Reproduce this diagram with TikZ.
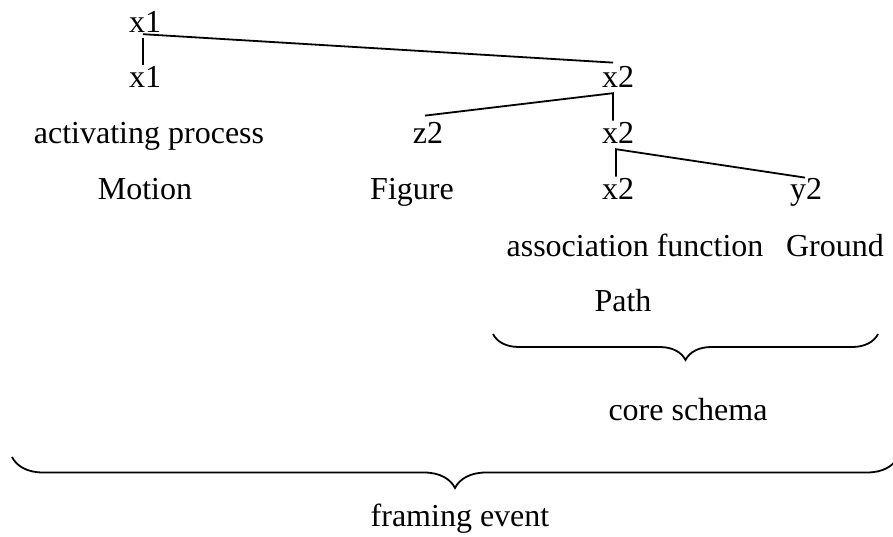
\documentclass[tikz,border=0pt]{standalone}
\usepackage{fontspec}
\setmainfont{Liberation Serif}
\usetikzlibrary{calc,decorations.pathreplacing}
\begin{document}
\begin{tikzpicture}[x=1pt,y=-1pt,
  lbl/.style={anchor=base,inner sep=0pt,font=\fontsize{32}{36}\selectfont},
  conn/.style={line width=1.8pt},
  bracestyle/.style={decorate,decoration={brace,mirror,amplitude=#1},line width=1.8pt}]
\useasboundingbox (0,0) rectangle (893,537);
% nodes
\node[lbl] (r1)  at (145,33)  {x1};
\node[lbl] (r2a) at (145,88)  {x1};
\node[lbl] (r2b) at (618,88)  {x2};
\node[lbl] (r3a) at (149,144) {activating process};
\node[lbl] (r3b) at (428,144) {z2};
\node[lbl] (r3c) at (618,144) {x2};
\node[lbl] (r4a) at (145,200) {Motion};
\node[lbl] (r4b) at (412,200) {Figure};
\node[lbl] (r4c) at (618,200) {x2};
\node[lbl] (r4d) at (806,200) {y2};
\node[lbl] (r5a) at (635,256) {association function};
\node[lbl] (r5b) at (835,256) {Ground};
\node[lbl] (r6)  at (623,311) {Path};
\node[lbl] (cs)  at (688,420) {core schema};
\node[lbl] (fe)  at (460,526) {framing event};
% connectors
\draw[conn] ($(r1.south)+(-2,1)$) -- ($(r2b.north)+(-5,-4)$);
\draw[conn] ($(r1.south)+(-2,5)$) -- ($(r2a.north)+(-2,-2)$);
\draw[conn] ($(r3b.north)+(-3,-7)$) -- ($(r2b.south)+(-5,5)$) -- ($(r3c.north)+(-5,-2)$);
\draw[conn] ($(r4c.north)+(-2,-2)$) -- ($(r3c.south)+(-2,5)$) -- ($(r4d.north)+(-1,-1)$);
% braces
\coordinate (b1s) at (493,334);
\coordinate (b1e) at (878,334);
\coordinate (b2s) at (12,457);
\coordinate (b2e) at (898,457);
\draw[bracestyle=26pt] (b1s) -- (b1e);
\draw[bracestyle=31pt] (b2s) -- (b2e);
\end{tikzpicture}
\end{document}
